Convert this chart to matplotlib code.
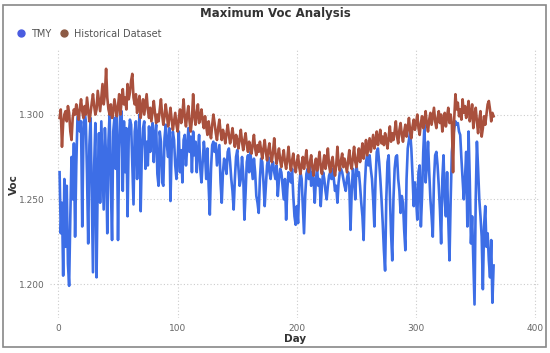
import numpy as np
import matplotlib
matplotlib.use("Agg")
import matplotlib.pyplot as plt
from matplotlib.lines import Line2D
from matplotlib.patches import Rectangle

# Maximum Voc per day
historical = [
    1.298, 1.303, 1.281, 1.295, 1.300, 1.302, 1.296, 1.305, 1.301, 1.290,
    1.285, 1.298, 1.303, 1.300, 1.306, 1.301, 1.297, 1.304, 1.309, 1.302,
    1.298, 1.305, 1.300, 1.310, 1.303, 1.296, 1.301, 1.307, 1.312, 1.305,
    1.300, 1.303, 1.314, 1.308, 1.302, 1.310, 1.318, 1.306, 1.312, 1.327,
    1.310, 1.303, 1.300, 1.306, 1.298, 1.301, 1.309, 1.304, 1.299, 1.305,
    1.312, 1.300, 1.308, 1.315, 1.306, 1.310, 1.303, 1.318, 1.309, 1.313,
    1.320, 1.324, 1.310, 1.306, 1.312, 1.301, 1.307, 1.311, 1.298, 1.304,
    1.309, 1.300, 1.306, 1.312, 1.303, 1.298, 1.304, 1.296, 1.302, 1.308,
    1.301, 1.295, 1.300, 1.296, 1.303, 1.309, 1.300, 1.294, 1.299, 1.306,
    1.300, 1.293, 1.298, 1.304, 1.297, 1.291, 1.296, 1.301, 1.294, 1.290,
    1.298, 1.303, 1.295, 1.300, 1.309, 1.298, 1.293, 1.300, 1.305, 1.296,
    1.290, 1.297, 1.312, 1.300, 1.294, 1.301, 1.306, 1.295, 1.298, 1.303,
    1.296, 1.292, 1.299, 1.293, 1.288, 1.296, 1.290, 1.286, 1.294, 1.300,
    1.295, 1.289, 1.285, 1.292, 1.297, 1.290, 1.285, 1.291, 1.288, 1.283,
    1.289, 1.294, 1.288, 1.283, 1.287, 1.292, 1.286, 1.281, 1.288, 1.285,
    1.280, 1.286, 1.291, 1.284, 1.279, 1.285, 1.289, 1.282, 1.278, 1.284,
    1.281, 1.277, 1.283, 1.288, 1.280, 1.276, 1.282, 1.278, 1.284, 1.279,
    1.274, 1.280, 1.285, 1.278, 1.273, 1.279, 1.283, 1.276, 1.272, 1.278,
    1.286, 1.277, 1.271, 1.276, 1.280, 1.273, 1.269, 1.275, 1.279, 1.272,
    1.268, 1.274, 1.281, 1.272, 1.267, 1.273, 1.277, 1.270, 1.266, 1.272,
    1.276, 1.269, 1.265, 1.271, 1.275, 1.268, 1.273, 1.279, 1.270, 1.266,
    1.272, 1.276, 1.269, 1.264, 1.270, 1.274, 1.267, 1.272, 1.278, 1.269,
    1.265, 1.271, 1.276, 1.268, 1.273, 1.280, 1.270, 1.266, 1.272, 1.275,
    1.268, 1.264, 1.270, 1.281, 1.271, 1.267, 1.273, 1.277, 1.269, 1.274,
    1.270, 1.266, 1.273, 1.279, 1.271, 1.268, 1.275, 1.281, 1.272, 1.269,
    1.275, 1.280, 1.272, 1.277, 1.283, 1.274, 1.279, 1.285, 1.276, 1.281,
    1.286, 1.278, 1.283, 1.288, 1.280, 1.284, 1.290, 1.282, 1.286, 1.291,
    1.283, 1.287, 1.282, 1.289, 1.285, 1.280, 1.287, 1.293, 1.284, 1.289,
    1.285, 1.290, 1.296, 1.287, 1.283, 1.291, 1.295, 1.288, 1.284, 1.290,
    1.294, 1.287, 1.292, 1.298, 1.290, 1.286, 1.293, 1.297, 1.291, 1.295,
    1.300, 1.292, 1.288, 1.295, 1.299, 1.292, 1.296, 1.302, 1.294, 1.290,
    1.297, 1.301, 1.294, 1.299, 1.304, 1.296, 1.292, 1.298, 1.302, 1.295,
    1.300, 1.290, 1.296, 1.301, 1.293, 1.299, 1.304, 1.295, 1.300, 1.294,
    1.266, 1.298, 1.312, 1.303, 1.307, 1.299, 1.303, 1.297, 1.309, 1.301,
    1.305, 1.298, 1.302, 1.308, 1.296, 1.300, 1.306, 1.292, 1.299, 1.304,
    1.296, 1.289, 1.297, 1.302, 1.287, 1.292, 1.299, 1.294, 1.300, 1.306,
    1.308, 1.303, 1.296, 1.301, 1.299,
]

tmy = [
    1.266, 1.230, 1.248, 1.205, 1.262, 1.222, 1.258, 1.212, 1.199, 1.240,
    1.275, 1.250, 1.283, 1.228, 1.270, 1.298, 1.302, 1.290, 1.296, 1.234,
    1.288, 1.302, 1.296, 1.265, 1.224, 1.282, 1.298, 1.252, 1.207, 1.270,
    1.295, 1.204, 1.262, 1.289, 1.248, 1.296, 1.270, 1.244, 1.292, 1.275,
    1.230, 1.285, 1.301, 1.258, 1.226, 1.290, 1.298, 1.268, 1.302, 1.226,
    1.280, 1.300, 1.302, 1.255, 1.296, 1.266, 1.292, 1.240, 1.288, 1.297,
    1.294, 1.270, 1.247, 1.290, 1.296, 1.262, 1.285, 1.300, 1.243, 1.279,
    1.292, 1.296, 1.268, 1.284, 1.270, 1.293, 1.278, 1.290, 1.295, 1.272,
    1.288, 1.294, 1.265, 1.258, 1.290, 1.284, 1.260, 1.258, 1.286, 1.294,
    1.282, 1.275, 1.292, 1.249, 1.280, 1.290, 1.285, 1.270, 1.262, 1.274,
    1.290, 1.266, 1.279, 1.260, 1.285, 1.288, 1.270, 1.280, 1.292, 1.278,
    1.287, 1.266, 1.290, 1.276, 1.284, 1.266, 1.278, 1.288, 1.268, 1.260,
    1.272, 1.284, 1.276, 1.262, 1.280, 1.258, 1.241, 1.268, 1.282, 1.284,
    1.278, 1.283, 1.270, 1.276, 1.282, 1.260, 1.248, 1.266, 1.274, 1.270,
    1.265, 1.278, 1.280, 1.272, 1.262, 1.255, 1.244, 1.262, 1.275, 1.279,
    1.268, 1.258, 1.262, 1.275, 1.265, 1.238, 1.254, 1.272, 1.276, 1.266,
    1.278, 1.270, 1.262, 1.274, 1.266, 1.252, 1.248, 1.242, 1.262, 1.274,
    1.272, 1.260, 1.246, 1.258, 1.270, 1.275, 1.266, 1.262, 1.270, 1.272,
    1.266, 1.262, 1.270, 1.252, 1.262, 1.268, 1.266, 1.258, 1.250, 1.262,
    1.238, 1.256, 1.266, 1.264, 1.260, 1.268, 1.252, 1.240, 1.235, 1.246,
    1.236, 1.258, 1.266, 1.262, 1.246, 1.230, 1.252, 1.265, 1.268, 1.262,
    1.270, 1.258, 1.266, 1.262, 1.248, 1.262, 1.268, 1.258, 1.262, 1.246,
    1.258, 1.266, 1.262, 1.255, 1.250, 1.258, 1.264, 1.266, 1.262, 1.268,
    1.262, 1.255, 1.258, 1.248, 1.260, 1.266, 1.268, 1.266, 1.262, 1.258,
    1.255, 1.262, 1.266, 1.258, 1.232, 1.255, 1.268, 1.262, 1.250, 1.270,
    1.264, 1.266, 1.258, 1.248, 1.240, 1.226, 1.258, 1.272, 1.276, 1.270,
    1.276, 1.268, 1.262, 1.250, 1.234, 1.262, 1.278, 1.280, 1.272, 1.262,
    1.250, 1.236, 1.220, 1.208, 1.250, 1.272, 1.276, 1.254, 1.230, 1.214,
    1.250, 1.268, 1.275, 1.276, 1.262, 1.255, 1.242, 1.252, 1.248, 1.232,
    1.220, 1.262, 1.280, 1.285, 1.290, 1.280, 1.264, 1.246, 1.260, 1.250,
    1.238, 1.266, 1.270, 1.234, 1.252, 1.278, 1.294, 1.260, 1.270, 1.284,
    1.266, 1.250, 1.240, 1.228, 1.262, 1.276, 1.278, 1.270, 1.258, 1.244,
    1.224, 1.262, 1.276, 1.250, 1.240, 1.266, 1.238, 1.214, 1.250, 1.278,
    1.286, 1.292, 1.296, 1.294, 1.295, 1.290, 1.288, 1.274, 1.262, 1.250,
    1.262, 1.278, 1.234, 1.290, 1.262, 1.224, 1.240, 1.214, 1.188, 1.250,
    1.284, 1.268, 1.250, 1.240, 1.228, 1.197, 1.234, 1.246, 1.222, 1.230,
    1.214, 1.204, 1.226, 1.189, 1.211,
]

days = np.arange(1, len(tmy) + 1)

tmy_color = "#3d6ee6"
hist_color = "#a9503d"

fig = plt.figure(figsize=(5.5, 3.53), dpi=100)
ax = fig.add_axes([0.091, 0.099, 0.891, 0.759])

ax.plot(days, tmy, color=tmy_color, lw=1.9, zorder=3)
ax.plot(days[:len(historical)], historical, color=hist_color, lw=1.9, zorder=4)

ax.set_xlim(-7, 404)
ax.set_ylim(1.18, 1.338)
ax.set_xticks([0, 100, 200, 300, 400])
ax.set_yticks([1.200, 1.250, 1.300])
ax.set_yticklabels(["1.200", "1.250", "1.300"])
ax.tick_params(length=0, labelsize=6.5, colors="#666666", pad=4)
ax.grid(True, color="#cccccc", linestyle=(0, (1, 2)), lw=0.8)
for s in ax.spines.values():
    s.set_visible(False)

ax.set_xlabel("Day", fontsize=7.5, fontweight="bold", color="#333333")
ax.set_ylabel("Voc", fontsize=7.5, fontweight="bold", color="#333333")
ax.xaxis.set_label_coords(0.5, -0.06)
ax.yaxis.set_label_coords(-0.063, 0.5)

fig.text(0.5, 0.962, "Maximum Voc Analysis", ha="center", va="center",
         fontsize=8.5, fontweight="bold", color="#333333")

handles = [
    Line2D([], [], marker="o", ls="none", color="#4a5ce0", markersize=5),
    Line2D([], [], marker="o", ls="none", color="#8c5a45", markersize=5),
]
fig.legend(handles, ["TMY", "Historical Dataset"], loc="center left",
           bbox_to_anchor=(0.005, 0.905), ncol=2, frameon=False, fontsize=7,
           handletextpad=0.0, columnspacing=0.3, labelcolor="#555555")

fig.patches.append(Rectangle((0.006, 0.017), 0.987, 0.968, transform=fig.transFigure,
                             fill=False, edgecolor="#888888", lw=1.2))

fig.savefig("out.png", dpi=100)
